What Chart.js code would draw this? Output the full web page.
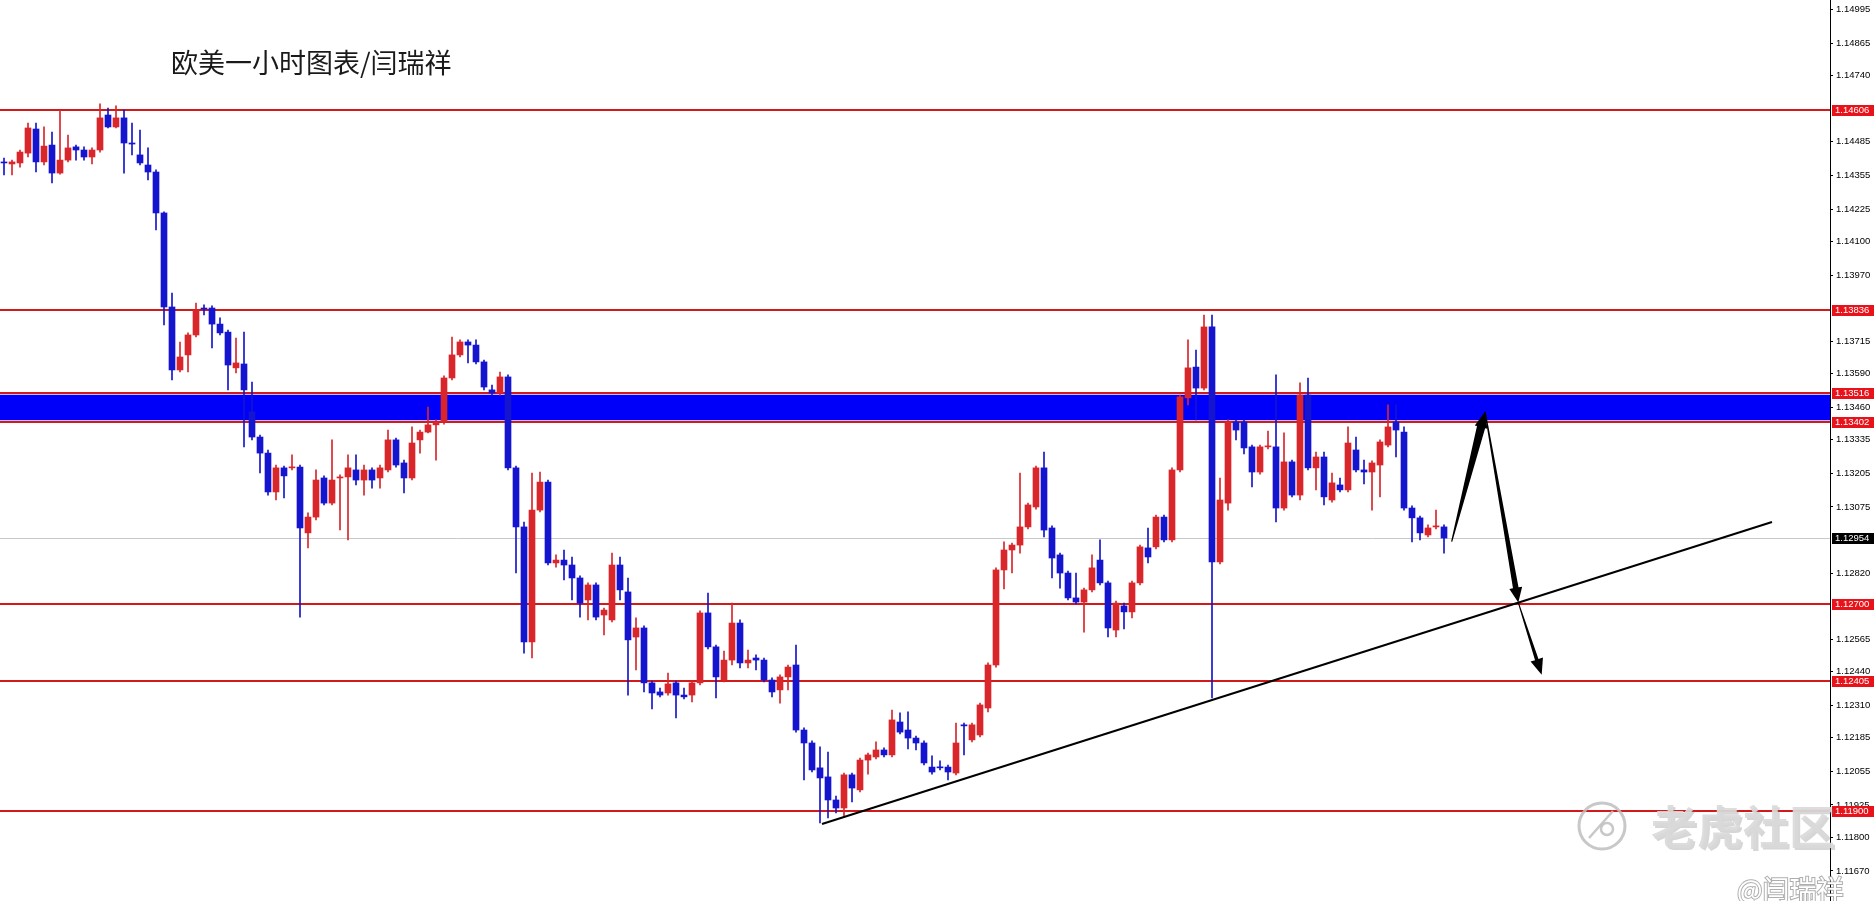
<!DOCTYPE html>
<html>
<head>
<meta charset="utf-8">
<title>欧美一小时图表</title>
<script src="https://cdn.jsdelivr.net/npm/chart.js@4.4.0/dist/chart.umd.min.js"></script>
<style>
  html, body { margin: 0; padding: 0; background: #fff; }
  #wrap { width: 1874px; height: 901px; position: relative; }
</style>
</head>
<body>
<div id="wrap"><canvas id="myChart"></canvas></div>
<script>
// EURUSD H1 candles (open / high / low / close)
var opens = [
  1.14403, 1.14399, 1.14403, 1.14441, 1.14534, 1.14407, 1.14472, 1.14364, 1.14414, 1.14465,
  1.14453, 1.14426, 1.14453, 1.14588, 1.14542, 1.14577, 1.14480, 1.14434, 1.14395, 1.14368,
  1.14210, 1.13847, 1.13604, 1.13662, 1.13739, 1.13843, 1.13843, 1.13781, 1.13750, 1.13612,
  1.13627, 1.13442, 1.13345, 1.13283, 1.13133, 1.13226, 1.13226, 1.13229, 1.12975, 1.13036,
  1.13187, 1.13090, 1.13187, 1.13191, 1.13218, 1.13179, 1.13218, 1.13187, 1.13218, 1.13334,
  1.13245, 1.13187, 1.13334, 1.13364, 1.13392, 1.13403, 1.13573, 1.13662, 1.13712, 1.13700,
  1.13635, 1.13527, 1.13515, 1.13577, 1.13226, 1.12998, 1.12554, 1.13063, 1.13171, 1.12859,
  1.12870, 1.12851, 1.12801, 1.12716, 1.12774, 1.12658, 1.12639, 1.12851, 1.12747, 1.12573,
  1.12608, 1.12396, 1.12361, 1.12357, 1.12396, 1.12349, 1.12349, 1.12396, 1.12666, 1.12535,
  1.12407, 1.12484, 1.12627, 1.12473, 1.12492, 1.12484, 1.12407, 1.12369, 1.12419, 1.12465,
  1.12214, 1.12164, 1.12068, 1.12033, 1.11944, 1.11913, 1.12041, 1.11983, 1.12098, 1.12110,
  1.12137, 1.12118, 1.12245, 1.12214, 1.12183, 1.12164, 1.12071, 1.12071, 1.12071, 1.12048,
  1.12234, 1.12176, 1.12195, 1.12299, 1.12465, 1.12832, 1.12909, 1.12928, 1.12998, 1.13075,
  1.13226, 1.12994, 1.12890, 1.12820, 1.12724, 1.12708, 1.12755, 1.12870, 1.12782, 1.12600,
  1.12693, 1.12670, 1.12782, 1.12917, 1.12921, 1.13036, 1.12948, 1.13218, 1.13496, 1.13615,
  1.13534, 1.13770, 1.12863, 1.13090, 1.13403, 1.13403, 1.13307, 1.13210, 1.13307, 1.13307,
  1.13071, 1.13249, 1.13121, 1.13507, 1.13226, 1.13268, 1.13102, 1.13160, 1.13141, 1.13295,
  1.13218, 1.13210, 1.13237, 1.13314, 1.13403, 1.13364, 1.13071, 1.13033, 1.12967, 1.12998,
  1.12998
];
var highs = [
  1.14422, 1.14414, 1.14453, 1.14557, 1.14557, 1.14542, 1.14522, 1.14607, 1.14511, 1.14472,
  1.14465, 1.14461, 1.14631, 1.14615, 1.14623, 1.14607, 1.14557, 1.14530, 1.14461, 1.14376,
  1.14214, 1.13901, 1.13712, 1.13747, 1.13862, 1.13855, 1.13851, 1.13805, 1.13758, 1.13727,
  1.13750, 1.13557, 1.13353, 1.13295, 1.13237, 1.13233, 1.13276, 1.13237, 1.13052, 1.13218,
  1.13195, 1.13334, 1.13199, 1.13276, 1.13276, 1.13237, 1.13226, 1.13237, 1.13372, 1.13341,
  1.13256, 1.13384, 1.13372, 1.13461, 1.13411, 1.13581, 1.13731, 1.13720, 1.13720, 1.13720,
  1.13642, 1.13546, 1.13596, 1.13585, 1.13233, 1.13017, 1.13206, 1.13210, 1.13179, 1.12890,
  1.12909, 1.12882, 1.12809, 1.12782, 1.12782, 1.12685, 1.12897, 1.12882, 1.12801, 1.12647,
  1.12616, 1.12403, 1.12376, 1.12434, 1.12403, 1.12376, 1.12403, 1.12674, 1.12743, 1.12542,
  1.12519, 1.12704, 1.12639, 1.12523, 1.12504, 1.12492, 1.12415, 1.12427, 1.12465, 1.12542,
  1.12222, 1.12172, 1.12149, 1.12129, 1.11959, 1.12048, 1.12048, 1.12106, 1.12125, 1.12168,
  1.12145, 1.12291, 1.12280, 1.12284, 1.12191, 1.12172, 1.12114, 1.12095, 1.12079, 1.12241,
  1.12241, 1.12241, 1.12318, 1.12473, 1.12840, 1.12940, 1.12936, 1.13206, 1.13090, 1.13233,
  1.13287, 1.13002, 1.12897, 1.12828, 1.12820, 1.12762, 1.12890, 1.12948, 1.12789, 1.12712,
  1.12704, 1.12789, 1.12928, 1.12994, 1.13044, 1.13044, 1.13226, 1.13507, 1.13720, 1.13681,
  1.13816, 1.13816, 1.13187, 1.13411, 1.13411, 1.13411, 1.13314, 1.13314, 1.13368, 1.13585,
  1.13361, 1.13256, 1.13554, 1.13573, 1.13287, 1.13287, 1.13206, 1.13187, 1.13384, 1.13345,
  1.13256, 1.13253, 1.13334, 1.13469, 1.13469, 1.13384, 1.13079, 1.13040, 1.13006, 1.13063,
  1.13006
];
var lows = [
  1.14357, 1.14357, 1.14387, 1.14426, 1.14368, 1.14395, 1.14326, 1.14360, 1.14407, 1.14414,
  1.14414, 1.14399, 1.14445, 1.14538, 1.14538, 1.14364, 1.14434, 1.14395, 1.14337, 1.14144,
  1.13778, 1.13565, 1.13596, 1.13596, 1.13731, 1.13816, 1.13689, 1.13739, 1.13527, 1.13592,
  1.13307, 1.13334, 1.13206, 1.13121, 1.13102, 1.13110, 1.13218, 1.12650, 1.12917, 1.13025,
  1.13083, 1.13083, 1.12986, 1.12948, 1.13160, 1.13121, 1.13148, 1.13148, 1.13210, 1.13229,
  1.13129, 1.13179, 1.13283, 1.13361, 1.13256, 1.13395, 1.13565, 1.13654, 1.13631, 1.13627,
  1.13527, 1.13507, 1.13507, 1.13218, 1.12820, 1.12511, 1.12492, 1.13056, 1.12851, 1.12843,
  1.12793, 1.12716, 1.12650, 1.12639, 1.12639, 1.12581, 1.12631, 1.12716, 1.12349, 1.12446,
  1.12361, 1.12295, 1.12342, 1.12349, 1.12261, 1.12334, 1.12322, 1.12388, 1.12527, 1.12338,
  1.12400, 1.12465, 1.12454, 1.12454, 1.12446, 1.12400, 1.12342, 1.12318, 1.12369, 1.12206,
  1.12021, 1.12052, 1.11855, 1.11875, 1.11894, 1.11878, 1.11936, 1.11975, 1.12044, 1.12102,
  1.12110, 1.12110, 1.12199, 1.12141, 1.12137, 1.12079, 1.12044, 1.12060, 1.12021, 1.12041,
  1.12118, 1.12168, 1.12187, 1.12284, 1.12457, 1.12759, 1.12820, 1.12897, 1.12990, 1.13067,
  1.12959, 1.12801, 1.12762, 1.12716, 1.12701, 1.12592, 1.12747, 1.12774, 1.12573, 1.12573,
  1.12604, 1.12647, 1.12774, 1.12859, 1.12913, 1.12940, 1.12940, 1.13210, 1.13469, 1.13411,
  1.13527, 1.12338, 1.12855, 1.13063, 1.13334, 1.13280, 1.13152, 1.13202, 1.13299, 1.13017,
  1.13063, 1.13114, 1.13102, 1.13218, 1.13141, 1.13083, 1.13094, 1.13133, 1.13133, 1.13210,
  1.13164, 1.13063, 1.13114, 1.13307, 1.13268, 1.13063, 1.12940, 1.12948, 1.12959, 1.12990,
  1.12897
];
var closes = [
  1.14403, 1.14407, 1.14445, 1.14538, 1.14407, 1.14468, 1.14364, 1.14414, 1.14461, 1.14453,
  1.14426, 1.14453, 1.14577, 1.14542, 1.14577, 1.14480, 1.14476, 1.14403, 1.14368, 1.14210,
  1.13847, 1.13604, 1.13654, 1.13739, 1.13835, 1.13839, 1.13781, 1.13747, 1.13623, 1.13631,
  1.13527, 1.13345, 1.13283, 1.13133, 1.13226, 1.13195, 1.13229, 1.12994, 1.13036, 1.13179,
  1.13090, 1.13179, 1.13191, 1.13226, 1.13179, 1.13218, 1.13179, 1.13226, 1.13334, 1.13237,
  1.13187, 1.13322, 1.13364, 1.13392, 1.13403, 1.13573, 1.13662, 1.13712, 1.13700, 1.13635,
  1.13538, 1.13515, 1.13577, 1.13226, 1.12998, 1.12554, 1.13063, 1.13171, 1.12859, 1.12870,
  1.12851, 1.12801, 1.12704, 1.12774, 1.12650, 1.12677, 1.12851, 1.12755, 1.12562, 1.12608,
  1.12396, 1.12357, 1.12349, 1.12392, 1.12349, 1.12342, 1.12396, 1.12666, 1.12535, 1.12419,
  1.12484, 1.12627, 1.12473, 1.12484, 1.12484, 1.12407, 1.12361, 1.12419, 1.12457, 1.12214,
  1.12164, 1.12060, 1.12029, 1.11944, 1.11913, 1.12041, 1.11990, 1.12098, 1.12118, 1.12137,
  1.12118, 1.12253, 1.12206, 1.12183, 1.12164, 1.12087, 1.12052, 1.12068, 1.12052, 1.12164,
  1.12230, 1.12234, 1.12311, 1.12465, 1.12832, 1.12909, 1.12928, 1.12998, 1.13083, 1.13226,
  1.12986, 1.12878, 1.12820, 1.12724, 1.12708, 1.12755, 1.12840, 1.12782, 1.12608, 1.12704,
  1.12670, 1.12782, 1.12921, 1.12882, 1.13036, 1.12948, 1.13218, 1.13500, 1.13612, 1.13534,
  1.13770, 1.12863, 1.13102, 1.13403, 1.13372, 1.13303, 1.13210, 1.13307, 1.13310, 1.13071,
  1.13249, 1.13121, 1.13507, 1.13226, 1.13268, 1.13114, 1.13168, 1.13141, 1.13322, 1.13218,
  1.13210, 1.13245, 1.13326, 1.13384, 1.13372, 1.13071, 1.13033, 1.12975, 1.12994, 1.13002,
  1.12955
];

// price axis ticks (MT4 style)
var tickValues = [1.14995, 1.14865, 1.14740, 1.14485, 1.14355, 1.14225, 1.14100, 1.13970,
  1.13715, 1.13590, 1.13460, 1.13335, 1.13205, 1.13075, 1.12820, 1.12565, 1.12440,
  1.12310, 1.12185, 1.12055, 1.11925, 1.11800, 1.11670];

// drawn objects
var redLevels = [1.14606, 1.13836, 1.12700, 1.12405, 1.11900];
var zoneLevels = [1.13516, 1.13402];
var lastPrice = 1.12954;
var trendX = [102.25, 221];
var trendY = [1.11851, 1.13017];
var arrowX = [180.96, 185.13, 189.29, 192.21];
var arrowY = [1.12941, 1.13443, 1.12706, 1.12427];
var chartTitle = '欧美一小时图表/闫瑞祥';

var RED = '#d9262b';
var BLUE = '#1515cf';
var LINE_RED = '#d21a1a';

var bodies = [], wicks = [], colors = [];
for (var i = 0; i < closes.length; i++) {
  bodies.push({x: i, y: [opens[i], closes[i]]});
  wicks.push({x: i, y: [lows[i], highs[i]]});
  colors.push(closes[i] > opens[i] ? RED : BLUE);
}

// levels, zone and current price line behind the candles
var levelsPlugin = {
  id: 'levels',
  beforeDatasetsDraw: function(chart) {
    var ctx = chart.ctx, a = chart.chartArea, y = chart.scales.y;
    ctx.save();
    var zt = y.getPixelForValue(zoneLevels[0]);
    var zb = y.getPixelForValue(zoneLevels[1]);
    ctx.fillStyle = '#0000fa';
    ctx.fillRect(a.left, zt + 2, a.right - a.left, zb - zt - 4);

    ctx.strokeStyle = '#c8c8c8';
    ctx.lineWidth = 1;
    var lp = Math.round(y.getPixelForValue(lastPrice)) + 0.5;
    ctx.beginPath(); ctx.moveTo(a.left, lp); ctx.lineTo(a.right, lp); ctx.stroke();

    ctx.strokeStyle = LINE_RED;
    ctx.lineWidth = 2;
    redLevels.concat(zoneLevels).forEach(function(v) {
      var py = Math.round(y.getPixelForValue(v));
      ctx.beginPath(); ctx.moveTo(a.left, py); ctx.lineTo(a.right, py); ctx.stroke();
    });
    ctx.restore();
  }
};

function drawArrow(ctx, ax, ay, bx, by, w0, w1, head, hw) {
  var dx = bx - ax, dy = by - ay, len = Math.sqrt(dx * dx + dy * dy);
  var ux = dx / len, uy = dy / len, nx = -uy, ny = ux;
  var hx = bx - ux * head, hy = by - uy * head;
  ctx.beginPath();
  ctx.moveTo(ax + nx * w0, ay + ny * w0);
  ctx.lineTo(hx + nx * w1, hy + ny * w1);
  ctx.lineTo(hx + nx * hw, hy + ny * hw);
  ctx.lineTo(bx, by);
  ctx.lineTo(hx - nx * hw, hy - ny * hw);
  ctx.lineTo(hx - nx * w1, hy - ny * w1);
  ctx.lineTo(ax - nx * w0, ay - ny * w0);
  ctx.closePath();
  ctx.fill();
}

var overlayPlugin = {
  id: 'overlay',
  afterDatasetsDraw: function(chart) {
    var ctx = chart.ctx, xs = chart.scales.x, ys = chart.scales.y;
    var px = arrowX.map(function(v) { return xs.getPixelForValue(v); });
    var py = arrowY.map(function(v) { return ys.getPixelForValue(v); });
    ctx.save();
    ctx.fillStyle = '#000';
    drawArrow(ctx, px[0], py[0], px[1], py[1], 0.6, 4.2, 16, 6.5);
    drawArrow(ctx, px[1], py[1], px[2], py[2], 0.6, 2.8, 15, 6.5);
    drawArrow(ctx, px[2], py[2], px[3], py[3], 0.5, 1.8, 16, 6.5);
    ctx.restore();
  },
  afterDraw: function(chart) {
    var ctx = chart.ctx, a = chart.chartArea, y = chart.scales.y;
    ctx.save();
    // price tags on the axis
    ctx.font = '9.5px "Liberation Sans", Arial, sans-serif';
    ctx.textBaseline = 'middle';
    ctx.textAlign = 'left';
    var tags = redLevels.concat(zoneLevels);
    tags.forEach(function(v) {
      var py = Math.round(y.getPixelForValue(v));
      ctx.fillStyle = '#e8121a';
      ctx.fillRect(a.right + 2, py - 5, 42, 11);
      ctx.fillStyle = '#fff';
      ctx.fillText(v.toFixed(5), a.right + 5, py + 0.5);
    });
    var lp = Math.round(y.getPixelForValue(lastPrice));
    ctx.fillStyle = '#000';
    ctx.fillRect(a.right + 2, lp - 5, 42, 11);
    ctx.fillStyle = '#fff';
    ctx.fillText(lastPrice.toFixed(5), a.right + 5, lp + 0.5);

    // title
    ctx.fillStyle = '#1a1a1a';
    ctx.font = '27px "Noto Sans CJK SC", sans-serif';
    ctx.fillText(chartTitle, 171, 63);

    // watermark
    ctx.strokeStyle = 'rgba(190,190,190,0.85)';
    ctx.lineWidth = 3;
    ctx.beginPath(); ctx.arc(1602, 826, 23, 0, Math.PI * 2); ctx.stroke();
    ctx.lineWidth = 2.5;
    ctx.beginPath(); ctx.moveTo(1589, 838); ctx.lineTo(1613, 811); ctx.stroke();
    ctx.beginPath(); ctx.arc(1607, 829, 6, 0, Math.PI * 2); ctx.stroke();
    ctx.font = 'bold 46px "Noto Sans CJK SC", sans-serif';
    ctx.fillStyle = 'rgba(120,120,120,0.3)';
    ctx.fillText('老虎社区', 1653, 829);
    ctx.fillStyle = 'rgba(218,218,218,0.92)';
    ctx.fillText('老虎社区', 1651, 827);
    ctx.font = '27px "Noto Sans CJK SC", sans-serif';
    ctx.lineWidth = 2;
    ctx.strokeStyle = 'rgba(140,140,140,0.7)';
    ctx.strokeText('@闫瑞祥', 1737, 890);
    ctx.fillStyle = '#fff';
    ctx.fillText('@闫瑞祥', 1737, 890);
    ctx.restore();
  }
};

var ctx = document.getElementById('myChart').getContext('2d');
var myChart = new Chart(ctx, {
  type: 'bar',
  data: {
    datasets: [{
      type: 'line',
      label: 'trend',
      data: [{x: trendX[0], y: trendY[0]}, {x: trendX[1], y: trendY[1]}],
      borderColor: '#000',
      borderWidth: 2,
      pointRadius: 0,
      order: -1
    }, {
      label: 'body',
      data: bodies,
      backgroundColor: colors,
      barThickness: 6,
      minBarLength: 1,
      grouped: false,
      order: 0
    }, {
      label: 'wick',
      data: wicks,
      backgroundColor: colors,
      barThickness: 1,
      grouped: false,
      order: 1
    }]
  },
  plugins: [levelsPlugin, overlayPlugin],
  options: {
    responsive: true,
    maintainAspectRatio: false,
    animation: false,
    devicePixelRatio: 1,
    events: [],
    layout: { padding: 0 },
    plugins: {
      legend: { display: false },
      tooltip: { enabled: false }
    },
    scales: {
      x: {
        type: 'linear',
        min: -0.5,
        max: 228.25,
        offset: false,
        display: false
      },
      y: {
        type: 'linear',
        position: 'right',
        min: 1.11554,
        max: 1.15032,
        afterBuildTicks: function(scale) {
          scale.ticks = tickValues.map(function(v) { return {value: v}; });
        },
        afterFit: function(scale) {
          scale.width = 44;
          scale.paddingTop = 0;
          scale.paddingBottom = 0;
        },
        ticks: {
          autoSkip: false,
          padding: 3,
          color: '#000',
          font: { family: 'Liberation Sans', size: 9.5 },
          callback: function(v) { return Number(v).toFixed(5); }
        },
        grid: { drawOnChartArea: false, drawTicks: true, tickLength: 3, color: '#000' },
        border: { display: true, color: '#000', width: 1 }
      }
    }
  }
});
</script>
</body>
</html>
